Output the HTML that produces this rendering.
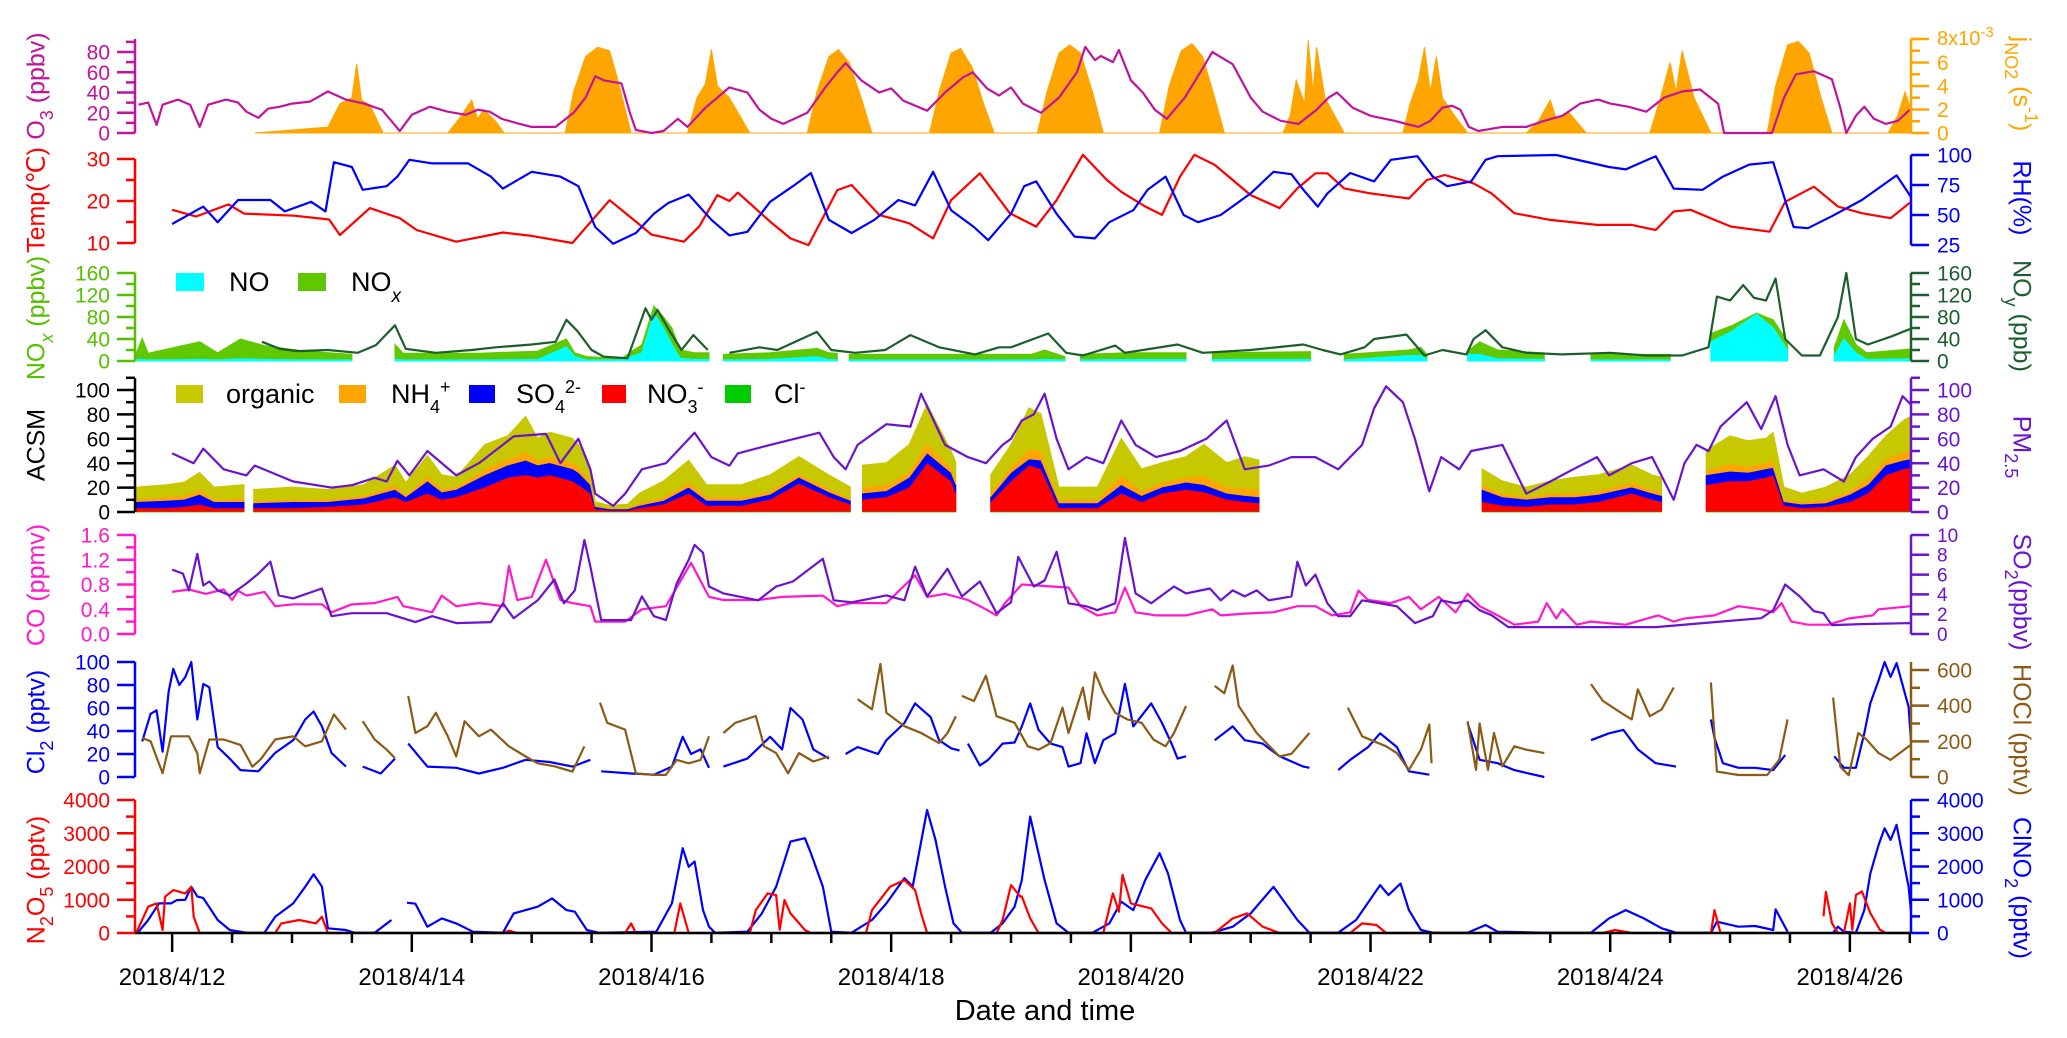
<!DOCTYPE html>
<html><head><meta charset="utf-8"><title>Time series</title>
<style>
html,body{margin:0;padding:0;background:#fff;}
svg{display:block;font-family:"Liberation Sans",Arial,sans-serif;}
</style></head>
<body>
<svg id="chart" xmlns="http://www.w3.org/2000/svg" width="2067" height="1038" viewBox="0 0 2067 1038">
<rect x="0" y="0" width="2067" height="1038" fill="#fff"/>
<g id="series"></g>
<g id="axes"></g>
<g font-size="25">
<text transform="translate(38,86) rotate(-90)" text-anchor="middle" dominant-baseline="middle" fill="#c0149c">O<tspan baseline-shift="sub" font-size="18">3</tspan> (ppbv)</text>
<text transform="translate(38,200) rotate(-90)" text-anchor="middle" dominant-baseline="middle" fill="#ff0000">Temp(℃)</text>
<text transform="translate(38,318) rotate(-90)" text-anchor="middle" dominant-baseline="middle" fill="#55c000">NO<tspan baseline-shift="sub" font-size="18" font-style="italic">x</tspan> (ppbv)</text>
<text transform="translate(38,445) rotate(-90)" text-anchor="middle" dominant-baseline="middle" fill="#000">ACSM</text>
<text transform="translate(38,585) rotate(-90)" text-anchor="middle" dominant-baseline="middle" fill="#ff19c8">CO (ppmv)</text>
<text transform="translate(38,722) rotate(-90)" text-anchor="middle" dominant-baseline="middle" fill="#0000ff">Cl<tspan baseline-shift="sub" font-size="18">2</tspan> (pptv)</text>
<text transform="translate(38,880) rotate(-90)" text-anchor="middle" dominant-baseline="middle" fill="#ff0000">N<tspan baseline-shift="sub" font-size="18">2</tspan>O<tspan baseline-shift="sub" font-size="18">5</tspan> (pptv)</text>
</g>
<g font-size="25">
<text transform="translate(2020,84) rotate(90)" text-anchor="middle" dominant-baseline="middle" fill="#ffa500">j<tspan baseline-shift="sub" font-size="18">NO2</tspan> (s<tspan baseline-shift="super" font-size="18">-1</tspan>)</text>
<text transform="translate(2020,198) rotate(90)" text-anchor="middle" dominant-baseline="middle" fill="#0000ff">RH(%)</text>
<text transform="translate(2020,316) rotate(90)" text-anchor="middle" dominant-baseline="middle" fill="#1c5e2c">NO<tspan baseline-shift="sub" font-size="18">y</tspan> (ppb)</text>
<text transform="translate(2020,447) rotate(90)" text-anchor="middle" dominant-baseline="middle" fill="#6a14d0">PM<tspan baseline-shift="sub" font-size="18">2.5</tspan></text>
<text transform="translate(2020,592) rotate(90)" text-anchor="middle" dominant-baseline="middle" fill="#6a14d0">SO<tspan baseline-shift="sub" font-size="18">2</tspan>(ppbv)</text>
<text transform="translate(2020,730) rotate(90)" text-anchor="middle" dominant-baseline="middle" fill="#8b5a14">HOCl (pptv)</text>
<text transform="translate(2020,888) rotate(90)" text-anchor="middle" dominant-baseline="middle" fill="#0000ff">ClNO<tspan baseline-shift="sub" font-size="18">2</tspan> (pptv)</text>
</g>
<g font-size="27">
<rect x="176" y="273" width="28" height="18" fill="#00ffff"/>
<text x="229" y="291">NO</text>
<rect x="298" y="273" width="28" height="18" fill="#5fc800"/>
<text x="351" y="291">NO<tspan baseline-shift="sub" font-size="19" font-style="italic">x</tspan></text>
</g>
<g font-size="27">
<rect x="176" y="385" width="27" height="18" fill="#c8c800"/>
<text x="226" y="403">organic</text>
<rect x="339" y="385" width="27" height="18" fill="#ffa500"/>
<text x="391" y="403">NH<tspan baseline-shift="sub" font-size="18">4</tspan><tspan baseline-shift="super" font-size="18">+</tspan></text>
<rect x="469" y="385" width="26" height="18" fill="#0000ff"/>
<text x="516" y="403">SO<tspan baseline-shift="sub" font-size="18">4</tspan><tspan baseline-shift="super" font-size="18">2-</tspan></text>
<rect x="602" y="385" width="24" height="18" fill="#ff0000"/>
<text x="647" y="403">NO<tspan baseline-shift="sub" font-size="18">3</tspan><tspan baseline-shift="super" font-size="18">-</tspan></text>
<rect x="725" y="385" width="26" height="18" fill="#00cc00"/>
<text x="774" y="403">Cl<tspan baseline-shift="super" font-size="18">-</tspan></text>
</g>
<text x="1045" y="1020" text-anchor="middle" font-size="29" fill="#000">Date and time</text>
</svg>
<script>
// ---------- data (day of April 2018, value) ----------
const jT=[12.69,13.3,13.4,13.5,13.54,13.58,13.65,13.76,14.3,14.4,14.5,14.55,14.6,14.7,14.77,15.28,15.35,15.45,15.55,15.65,15.72,15.83,16.3,16.38,16.45,16.5,16.55,16.65,16.82,17.3,17.38,17.48,17.56,17.65,17.75,17.84,18.32,18.4,18.5,18.58,18.68,18.77,18.86,19.22,19.3,19.4,19.49,19.58,19.68,19.77,20.24,20.32,20.42,20.51,20.6,20.7,20.78,21.27,21.33,21.38,21.45,21.48,21.52,21.55,21.62,21.7,21.78,22.27,22.33,22.4,22.45,22.5,22.55,22.6,22.7,22.81,23.3,23.4,23.5,23.55,23.65,23.8,24.33,24.42,24.5,24.55,24.6,24.7,24.84,25.31,25.38,25.48,25.57,25.66,25.76,25.85,26.32,26.4,26.46,26.51];
const jV=[0,0.5,2.5,3,5.9,2.8,2.4,0,0,1.3,2.8,1.2,2.0,1.0,0,0,3.5,6.5,7.3,7.0,4.5,0,0,3,4.2,7.1,4,3,0,0,3.5,6.5,7.1,6,3,0,0,3.5,6.8,7.2,5.5,2.5,0,0,3.5,6.8,7.5,6.8,3.5,0,0,4,7,7.6,6.5,3,0,0,1.5,4.5,2.5,7.9,3.5,7.3,3.0,1.5,0,0,2.5,4.5,7.3,3.5,6.5,3.0,1.5,0,0,1.0,2.8,1.2,1.8,0,0,3,6,3.5,7,3,0,0,4,7.5,7.8,6.8,3,0,0,1.5,3.5,2.0];
const o3T=[11.72,11.8,11.87,11.92,12.05,12.15,12.23,12.3,12.45,12.55,12.62,12.72,12.8,12.9,13.0,13.15,13.3,13.45,13.6,13.75,13.9,14.0,14.15,14.3,14.45,14.55,14.65,14.75,14.9,15.0,15.2,15.35,15.45,15.53,15.6,15.75,15.82,15.87,16.0,16.1,16.22,16.3,16.45,16.55,16.65,16.8,16.9,17.0,17.1,17.3,17.45,17.55,17.62,17.75,17.9,18.0,18.1,18.3,18.45,18.6,18.68,18.8,18.9,19.0,19.1,19.25,19.4,19.55,19.62,19.7,19.75,19.85,19.9,20.0,20.1,20.2,20.3,20.45,20.6,20.68,20.75,20.85,21.0,21.1,21.25,21.4,21.55,21.65,21.72,21.85,22.0,22.2,22.3,22.4,22.5,22.6,22.68,22.75,22.82,22.9,23.0,23.1,23.3,23.45,23.6,23.75,23.9,24.0,24.15,24.3,24.45,24.6,24.75,24.9,24.95,25.35,25.45,25.55,25.7,25.85,25.92,25.97,26.05,26.12,26.2,26.3,26.4,26.5];
const o3V=[28,30,8,28,33,28,6,28,33,30,21,15,24,26,29,31,41,33,29,23,2,18,26,21,18,23,21,14,9,6,6,20,35,56,52,49,20,3,0,2,14,6,25,35,45,40,23,14,9,20,45,60,69,52,40,44,32,22,40,55,60,44,37,45,29,20,35,60,85,72,76,70,82,52,40,23,14,35,64,80,75,68,35,21,12,9,23,35,40,25,17,12,9,6,12,25,27,23,6,2,4,6,6,12,17,29,33,29,26,21,35,41,43,29,0,0,35,58,61,53,25,0,17,26,14,9,12,23];
const tempT=[12.0,12.2,12.47,12.6,13.02,13.31,13.4,13.65,13.9,14.04,14.37,14.76,15.0,15.34,15.65,15.87,16.0,16.27,16.4,16.55,16.65,16.72,16.99,17.16,17.31,17.55,17.67,17.9,18.15,18.35,18.5,18.74,18.93,18.99,19.21,19.38,19.6,19.8,19.92,20.12,20.26,20.41,20.53,20.7,21.0,21.24,21.39,21.54,21.64,21.78,22.0,22.32,22.47,22.62,22.86,23.01,23.2,23.5,23.89,24.18,24.38,24.53,24.67,24.87,25.01,25.33,25.46,25.7,25.9,26.1,26.34,26.51];
const tempV=[17.9,16.3,19.2,17,16.5,15.6,11.9,18.3,15.9,13.1,10.3,12.5,11.7,10,20.2,15.1,12,10.3,14,21.4,20,22,15.1,11.1,9.5,22.6,23.8,16.7,14.7,11.1,20.2,26.6,19.4,17.1,13.9,20.2,31,25,22.2,18.7,16.7,25.8,31,28.6,21.4,18.3,23,26.6,26.6,23,21.8,20.6,25,26.2,24.2,21.8,17.1,15.5,14.3,14.3,13.1,17.5,17.9,15.5,13.9,12.7,19.8,23.4,18.7,17.1,15.9,19.8];
const rhT=[12.0,12.26,12.38,12.55,12.82,12.94,13.16,13.28,13.35,13.5,13.59,13.79,13.88,13.98,14.17,14.47,14.66,14.76,15.0,15.24,15.39,15.53,15.68,15.87,16.02,16.14,16.31,16.5,16.65,16.8,16.99,17.18,17.33,17.48,17.67,17.86,18.06,18.2,18.35,18.5,18.69,18.81,19.0,19.11,19.21,19.38,19.53,19.7,19.82,20.02,20.14,20.29,20.44,20.56,20.75,21.0,21.19,21.34,21.44,21.56,21.64,21.83,22.03,22.17,22.39,22.52,22.64,22.84,22.96,23.06,23.55,23.99,24.13,24.38,24.53,24.77,24.94,25.16,25.36,25.53,25.65,25.85,26.1,26.39,26.51];
const rhV=[42.5,57,44,62.5,62.5,53,61,53,94,90,71,74,82,96,93,93,82,72,86,82,74,40,26,35,51,60,67,46,33,36,61,74,85,46,35,46,62.5,58,86,54,40,29,51,74,78,51,32,30.5,44,54,71,82,50,44,50,68,86,84,71,57,68,85,78,96,99,82,74,78,96,99,100,90,88,99,72,71,82,92,94,40,39,49,62.5,83,65];
const noxT=[11.7,11.75,11.8,12.23,12.38,12.57,12.77,13.11,13.5,13.52,13.86,13.93,14.56,15.05,15.29,15.36,15.46,15.75,15.92,16.02,16.1,16.17,16.24,16.36,16.48,16.5,16.6,16.99,17.38,17.48,17.55,17.57,17.65,18.2,19.17,19.28,19.45,19.47,19.58,19.97,20.46,20.48,20.68,21.5,21.52,21.78,22.32,22.42,22.47,22.5,22.81,22.91,23.06,23.45,23.47,23.84,24.5,24.52,24.84,25.02,25.22,25.36,25.48,25.5,25.87,25.95,26.05,26.14,26.51];
const noxV=[14,41,14,35,15,40,28,18,12,null,30,14,14,18,40,15,8,5,30,100,80,60,20,15,15,null,12,15,23,15,14,null,12,12,12,20,8,null,12,15,15,null,15,17,null,12,20,25,12,null,18,35,20,15,null,12,12,null,50,65,87,75,35,null,25,75,30,15,22];
const noV=[3,3,2,3,2,4,3,2,2,null,3,2,2,3,26,8,2,2,15,87,60,30,5,3,3,null,2,3,8,3,2,null,2,2,2,3,2,null,2,3,3,null,3,3,null,2,10,10,3,null,12,12,4,3,null,2,2,null,35,55,85,60,20,null,10,40,15,3,4];
const noySeries=[[12.75,35],[12.9,22],[13.05,18],[13.3,20],[13.55,15],[13.7,29],[13.86,65],[13.95,22],[14.2,15],[14.5,20],[14.7,25],[15.0,30],[15.2,35],[15.29,75],[15.38,55],[15.5,20],[15.6,8],[15.8,5],[15.95,96],[16.0,75],[16.05,93],[16.15,55],[16.25,20],[16.35,47],[16.47,20],[16.5,null],[16.65,15],[16.9,25],[17.05,20],[17.38,53],[17.5,20],[17.7,15],[17.95,20],[18.16,47],[18.4,25],[18.7,12],[18.9,25],[19.0,25],[19.31,50],[19.46,15],[19.6,10],[19.87,28],[19.95,15],[20.1,20],[20.39,30],[20.6,15],[21.0,20],[21.44,30],[21.6,20],[21.75,12],[21.95,25],[22.03,40],[22.3,48],[22.45,10],[22.6,20],[22.8,12],[22.86,40],[22.96,56],[23.1,25],[23.3,15],[23.6,12],[24.0,15],[24.3,10],[24.6,10],[24.82,25],[24.89,117],[25.0,110],[25.11,138],[25.2,115],[25.3,110],[25.38,150],[25.46,40],[25.6,10],[25.75,10],[25.9,80],[25.97,160],[26.05,40],[26.15,30],[26.35,45],[26.51,59]];
const acsmT=[11.7,11.95,12.1,12.23,12.35,12.6,12.64,12.68,13.0,13.3,13.6,13.86,13.95,14.13,14.25,14.37,14.61,14.8,14.95,15.05,15.15,15.34,15.39,15.49,15.53,15.65,15.8,15.9,16.1,16.31,16.46,16.75,16.99,17.23,17.48,17.66,17.7,17.76,17.96,18.15,18.3,18.5,18.54,18.6,18.83,19.0,19.15,19.25,19.4,19.72,19.92,20.09,20.26,20.46,20.61,20.8,20.95,21.07,21.1,22.93,23.1,23.3,23.5,23.7,23.9,24.18,24.35,24.43,24.5,24.8,25.0,25.15,25.3,25.36,25.45,25.6,25.8,26.0,26.15,26.3,26.45,26.51];
const clV=[.5,.5,.5,.5,.5,.5,null,.5,.5,.5,.5,.5,.5,.5,.5,.5,.5,.5,.5,.5,.5,.5,.5,.5,.5,.5,.5,.5,.5,.5,.5,.5,.5,.5,.5,.5,null,.5,.5,.5,.5,.5,.5,null,.5,.5,.5,.5,.5,.5,.5,.5,.5,.5,.5,.5,.5,.5,null,.5,.5,.5,.5,.5,.5,.5,.5,.5,null,.5,.5,.5,.5,.5,.5,.5,.5,.5,.5,.5,.5,.5];
const no3V=[3,3,4,6,3,3,null,3,3,4,6,12,8,15,10,12,20,28,30,28,30,25,22,15,2,1,1,3,6,15,5,5,10,23,12,6,null,10,12,20,40,25,15,null,8,25,38,35,3,3,15,8,15,18,16,10,8,7,null,8,5,4,6,6,8,15,10,8,null,22,25,25,28,30,5,3,4,8,15,30,35,36];
const so4V=[5,6,6,8,5,5,null,4,5,4,5,6,4,10,6,6,10,10,12,10,10,10,10,7,2,1,1,2,3,5,4,4,4,5,4,3,null,5,5,8,8,7,7,null,4,7,5,7,4,4,7,5,5,6,6,5,5,5,null,10,7,6,6,6,6,5,5,5,null,8,8,7,7,6,3,3,3,6,7,8,7,7];
const nh4V=[2,3,3,4,2,3,null,2,2,2,2,4,2,4,3,2,5,5,7,4,5,5,5,3,1,1,1,2,3,4,3,3,3,3,3,2,null,5,5,5,8,4,4,null,4,5,8,8,3,3,8,4,4,4,7,5,6,6,null,4,3,2,3,3,3,4,3,3,null,4,6,5,5,6,2,2,3,3,5,5,7,7];
const orgV=[10,10,11,14,10,11,null,9,10,8,9,16,10,17,11,8,20,19,29,18,20,20,18,10,3,2,3,8,13,18,10,10,13,14,11,9,null,18,18,22,32,14,14,null,14,18,34,30,10,10,30,18,16,17,26,20,26,24,null,13,10,8,10,13,13,14,12,12,null,16,23,21,20,23,10,7,10,13,18,19,26,28];
const pmSeries=[[12.0,48],[12.18,40],[12.26,52],[12.43,35],[12.62,30],[12.69,38],[13.01,25],[13.33,20],[13.5,22],[13.69,28],[13.79,25],[13.88,42],[13.98,30],[14.13,50],[14.37,30],[14.56,40],[14.85,62],[15.12,64],[15.24,40],[15.39,60],[15.49,35],[15.53,15],[15.68,5],[15.78,15],[15.92,35],[16.12,40],[16.36,65],[16.5,45],[16.65,38],[16.72,48],[16.99,55],[17.4,65],[17.52,45],[17.62,35],[17.72,55],[17.96,72],[18.16,70],[18.25,97],[18.45,55],[18.64,45],[18.79,40],[18.93,55],[19.0,60],[19.09,75],[19.19,80],[19.28,97],[19.38,60],[19.48,35],[19.63,45],[19.77,40],[19.92,75],[20.04,55],[20.21,45],[20.41,50],[20.63,60],[20.8,75],[20.95,35],[21.15,38],[21.34,45],[21.54,45],[21.73,35],[21.93,55],[22.03,85],[22.13,103],[22.27,90],[22.37,60],[22.49,17],[22.59,45],[22.74,35],[22.84,50],[23.1,55],[23.2,35],[23.3,15],[23.5,25],[23.69,35],[23.89,45],[23.99,30],[24.18,40],[24.35,45],[24.53,10],[24.62,40],[24.72,55],[24.82,50],[24.92,70],[25.14,90],[25.26,68],[25.38,95],[25.48,55],[25.58,30],[25.78,35],[25.95,25],[26.05,45],[26.19,60],[26.34,70],[26.44,95],[26.51,88]];
const coSeries=[[12.0,0.68],[12.14,0.72],[12.28,0.65],[12.43,0.72],[12.5,0.55],[12.55,0.7],[12.62,0.62],[12.77,0.68],[12.86,0.45],[13.01,0.48],[13.25,0.48],[13.33,0.35],[13.5,0.48],[13.69,0.5],[13.88,0.6],[13.93,0.45],[14.17,0.35],[14.25,0.62],[14.37,0.45],[14.56,0.5],[14.76,0.45],[14.81,1.1],[14.88,0.55],[15.0,0.6],[15.12,1.2],[15.24,0.55],[15.34,0.5],[15.49,0.45],[15.53,0.2],[15.78,0.2],[15.92,0.4],[16.12,0.45],[16.21,0.75],[16.33,1.15],[16.48,0.6],[16.6,0.55],[16.89,0.55],[17.09,0.6],[17.43,0.62],[17.55,0.45],[17.67,0.5],[17.96,0.5],[18.2,0.95],[18.3,0.6],[18.45,0.65],[18.64,0.55],[18.79,0.4],[18.88,0.3],[18.95,0.5],[19.09,0.8],[19.48,0.75],[19.58,0.45],[19.72,0.3],[19.87,0.35],[19.95,0.75],[20.04,0.35],[20.21,0.3],[20.46,0.3],[20.68,0.4],[20.75,0.3],[20.95,0.33],[21.19,0.35],[21.39,0.45],[21.54,0.45],[21.68,0.3],[21.83,0.35],[21.9,0.7],[21.98,0.55],[22.17,0.5],[22.32,0.6],[22.42,0.4],[22.57,0.6],[22.71,0.35],[22.81,0.65],[22.91,0.45],[23.06,0.3],[23.2,0.15],[23.4,0.2],[23.47,0.5],[23.55,0.25],[23.6,0.4],[23.72,0.15],[23.84,0.2],[24.13,0.15],[24.4,0.3],[24.53,0.2],[24.62,0.25],[24.87,0.3],[25.07,0.45],[25.26,0.4],[25.36,0.35],[25.43,0.5],[25.51,0.2],[25.65,0.15],[25.82,0.15],[25.99,0.25],[26.19,0.3],[26.24,0.4],[26.51,0.45]];
const so2Series=[[12.0,6.5],[12.09,6.1],[12.14,4.4],[12.21,8.1],[12.26,4.9],[12.31,5.3],[12.38,4.4],[12.48,3.9],[12.62,5.1],[12.72,6.1],[12.82,7.3],[12.89,3.9],[13.01,3.6],[13.25,4.6],[13.33,1.8],[13.5,2.1],[13.79,2.1],[14.03,1.2],[14.17,1.8],[14.37,1.1],[14.66,1.2],[14.76,3.1],[14.85,1.6],[15.05,3.4],[15.19,5.5],[15.27,3.1],[15.36,4.4],[15.44,9.5],[15.49,6.8],[15.58,1.4],[15.83,1.4],[15.92,3.8],[16.02,1.8],[16.12,1.4],[16.21,5.1],[16.31,7.5],[16.36,9.0],[16.43,8.2],[16.48,4.8],[16.6,4.1],[16.89,3.4],[17.04,4.8],[17.18,5.3],[17.43,7.6],[17.52,3.4],[17.67,3.2],[17.96,3.9],[18.11,3.4],[18.2,6.8],[18.3,3.8],[18.47,6.6],[18.59,3.8],[18.74,5.3],[18.88,2.1],[19.0,3.2],[19.06,7.8],[19.19,4.8],[19.28,5.4],[19.38,8.3],[19.48,3.1],[19.63,2.8],[19.72,2.4],[19.87,3.1],[19.95,9.7],[20.04,4.1],[20.17,3.1],[20.36,4.8],[20.46,4.1],[20.66,4.6],[20.75,3.4],[20.85,4.4],[20.95,3.8],[21.05,4.4],[21.15,3.4],[21.34,3.8],[21.39,7.3],[21.46,4.9],[21.54,6.0],[21.64,3.1],[21.73,1.8],[21.83,1.8],[21.93,3.4],[22.03,3.2],[22.22,2.8],[22.37,1.1],[22.52,1.8],[22.59,3.4],[22.71,3.1],[22.81,3.4],[22.91,2.4],[23.01,1.9],[23.15,0.7],[23.69,0.7],[24.38,0.7],[24.87,1.2],[25.26,1.6],[25.36,2.4],[25.46,5.0],[25.58,3.8],[25.7,2.3],[25.78,2.1],[25.85,0.9],[26.09,1.0],[26.51,1.1]];
const cl2Series=[[11.75,31],[11.82,55],[11.87,58],[11.92,22],[11.97,74],[12.01,94],[12.06,80],[12.11,87],[12.16,100],[12.21,50],[12.26,81],[12.31,78],[12.38,26],[12.48,16],[12.57,6],[12.72,5],[12.86,21],[13.01,32],[13.11,50],[13.18,57],[13.25,44],[13.33,21],[13.45,9],[13.5,null],[13.59,9],[13.74,3],[13.86,16],[13.9,null],[13.97,29],[14.13,9],[14.37,8],[14.56,3],[14.76,8],[14.95,15],[15.15,13],[15.34,9],[15.49,15],[15.53,null],[15.58,5],[15.83,3],[16.02,2],[16.17,9],[16.26,35],[16.33,20],[16.41,24],[16.48,8],[16.53,null],[16.6,9],[16.8,16],[16.99,35],[17.09,24],[17.16,60],[17.26,50],[17.35,24],[17.48,16],[17.55,null],[17.62,20],[17.72,26],[17.89,20],[17.96,32],[18.11,47],[18.2,64],[18.33,52],[18.4,32],[18.5,25],[18.57,23],[18.6,null],[18.64,29],[18.74,10],[18.81,15],[18.93,29],[19.03,30],[19.09,44],[19.16,64],[19.23,41],[19.33,29],[19.43,26],[19.48,9],[19.58,12],[19.63,38],[19.7,12],[19.77,32],[19.87,38],[19.95,81],[20.02,44],[20.17,64],[20.26,47],[20.34,29],[20.39,16],[20.46,18],[20.55,null],[20.7,32],[20.85,44],[20.95,32],[21.1,29],[21.24,18],[21.44,9],[21.49,8],[21.6,null],[21.73,6],[21.83,15],[21.98,26],[22.08,38],[22.22,26],[22.32,5],[22.49,2],[22.6,null],[22.81,47],[22.91,15],[23.06,12],[23.2,6],[23.45,0],[23.6,null],[23.84,32],[23.99,38],[24.11,41],[24.23,24],[24.38,12],[24.55,9],[24.7,null],[24.84,50],[24.87,34],[24.94,12],[25.07,8],[25.21,8],[25.36,6],[25.46,19],[25.6,null],[25.87,18],[25.95,8],[26.05,8],[26.12,38],[26.17,64],[26.24,84],[26.29,100],[26.34,87],[26.39,99],[26.49,61],[26.51,31]];
const hoclSeries=[[11.75,219],[11.82,200],[11.92,21],[11.99,228],[12.14,228],[12.21,134],[12.23,21],[12.31,210],[12.43,210],[12.57,180],[12.67,58],[12.74,100],[12.86,210],[13.01,228],[13.11,172],[13.25,200],[13.35,351],[13.45,266],[13.5,null],[13.59,313],[13.69,210],[13.79,153],[13.86,106],[13.9,null],[13.97,455],[14.03,247],[14.13,285],[14.2,360],[14.3,228],[14.37,115],[14.44,313],[14.56,228],[14.66,266],[14.81,172],[14.95,115],[15.05,77],[15.19,60],[15.34,30],[15.44,172],[15.5,null],[15.57,417],[15.63,304],[15.78,266],[15.87,21],[16.02,12],[16.12,12],[16.21,96],[16.31,77],[16.41,96],[16.48,228],[16.53,null],[16.6,247],[16.7,304],[16.87,342],[16.94,172],[17.04,134],[17.14,21],[17.23,134],[17.35,87],[17.48,115],[17.55,null],[17.72,436],[17.84,379],[17.91,634],[17.96,360],[18.11,285],[18.25,247],[18.4,190],[18.47,247],[18.54,341],[18.56,null],[18.59,455],[18.69,426],[18.79,568],[18.88,341],[19.03,304],[19.14,172],[19.23,153],[19.33,190],[19.43,389],[19.48,247],[19.6,502],[19.65,323],[19.7,587],[19.77,474],[19.87,360],[19.97,323],[20.09,304],[20.19,209],[20.29,172],[20.36,247],[20.46,398],[20.55,null],[20.7,511],[20.78,470],[20.85,625],[20.9,398],[21.05,247],[21.24,115],[21.34,130],[21.49,247],[21.6,null],[21.81,389],[21.93,228],[22.13,172],[22.22,134],[22.32,40],[22.42,153],[22.49,294],[22.51,77],[22.6,null],[22.81,313],[22.88,40],[22.91,300],[22.98,40],[23.03,247],[23.1,60],[23.2,172],[23.3,153],[23.45,134],[23.6,null],[23.84,521],[23.94,426],[24.09,360],[24.18,323],[24.23,492],[24.33,341],[24.43,379],[24.53,502],[24.7,null],[24.84,530],[24.89,30],[25.07,11],[25.31,11],[25.41,96],[25.48,323],[25.6,null],[25.86,445],[25.92,58],[25.99,10],[26.07,247],[26.14,209],[26.24,134],[26.34,96],[26.51,181]];
const clno2Series=[[11.72,40],[11.8,390],[11.89,890],[11.99,890],[12.04,990],[12.11,1000],[12.16,1390],[12.21,1100],[12.26,1050],[12.38,390],[12.48,90],[12.62,10],[12.77,10],[12.86,490],[13.01,890],[13.11,1390],[13.18,1765],[13.25,1400],[13.3,140],[13.45,90],[13.52,10],[13.69,10],[13.83,390],[13.9,null],[13.96,910],[14.03,880],[14.13,190],[14.25,440],[14.37,290],[14.51,40],[14.76,10],[14.85,590],[15.05,790],[15.17,1040],[15.29,690],[15.36,640],[15.46,90],[15.56,10],[16.04,40],[16.17,890],[16.26,2550],[16.31,1990],[16.36,2150],[16.43,690],[16.48,190],[16.53,10],[16.8,40],[16.92,590],[17.04,1390],[17.09,1950],[17.16,2750],[17.28,2850],[17.33,2400],[17.43,1390],[17.5,40],[17.67,10],[17.84,390],[17.96,890],[18.11,1650],[18.18,1400],[18.3,3700],[18.37,2800],[18.45,1390],[18.52,290],[18.59,10],[18.83,10],[18.93,290],[19.03,790],[19.09,1590],[19.16,3500],[19.21,2700],[19.28,1590],[19.38,290],[19.48,10],[19.68,10],[19.82,290],[19.92,940],[20.02,690],[20.12,1590],[20.24,2400],[20.31,1790],[20.41,390],[20.46,10],[20.68,10],[20.85,190],[21.0,590],[21.19,1390],[21.39,390],[21.49,10],[21.73,10],[21.88,390],[22.08,1440],[22.15,1140],[22.25,1490],[22.32,690],[22.42,90],[22.52,10],[22.81,10],[22.96,240],[23.06,40],[23.45,10],[23.84,10],[23.99,440],[24.13,690],[24.28,440],[24.43,140],[24.55,10],[24.84,10],[24.89,340],[25.07,190],[25.21,210],[25.36,90],[25.38,710],[25.48,40],[25.6,null],[25.86,10],[25.9,190],[25.95,40],[26.05,10],[26.12,690],[26.17,1790],[26.24,2650],[26.29,3150],[26.34,2800],[26.39,3250],[26.49,1390],[26.51,640]];
const n2o5Series=[[11.7,0],[11.8,790],[11.87,890],[11.92,90],[11.94,1090],[12.01,1290],[12.11,1190],[12.16,1390],[12.18,490],[12.23,0],[12.86,0],[12.91,290],[13.06,390],[13.2,290],[13.25,490],[13.3,0],[14.76,0],[14.81,70],[14.88,0],[15.78,0],[15.83,290],[15.87,0],[16.19,0],[16.24,890],[16.31,0],[16.82,0],[16.87,690],[16.97,1190],[17.04,1140],[17.07,100],[17.11,990],[17.16,590],[17.28,90],[17.33,0],[17.79,0],[17.84,690],[17.99,1390],[18.11,1590],[18.2,1290],[18.25,590],[18.3,0],[18.88,0],[18.93,390],[19.0,1440],[19.08,1090],[19.09,1100],[19.16,440],[19.23,0],[19.77,0],[19.85,1190],[19.9,640],[19.93,1750],[20.0,890],[20.17,740],[20.26,290],[20.34,0],[20.7,0],[20.85,440],[20.97,590],[21.1,190],[21.24,0],[21.83,0],[21.93,290],[22.05,240],[22.13,0],[23.94,0],[24.04,90],[24.18,0],[24.84,0],[24.87,690],[24.92,0],[25.5,0],[25.6,null],[25.78,500],[25.8,1240],[25.85,300],[25.9,0],[25.95,0],[26.0,890],[26.02,100],[26.05,1140],[26.1,1250],[26.17,600],[26.25,100],[26.3,0],[26.51,0]];
// tick definitions
const dateTicks=[12,14,16,18,20,22,24,26];
const dateLabels=['2018/4/12','2018/4/14','2018/4/16','2018/4/18','2018/4/20','2018/4/22','2018/4/24','2018/4/26'];

// ---------- scales ----------
const X0=135,X1=1911,T0=11.69,T1=26.51;
function xs(t){return X0+(t-T0)/(T1-T0)*(X1-X0);}
function lin(v0,p0,v1,p1){return v=>p0+(v-v0)/(v1-v0)*(p1-p0);}
const yO3=lin(0,133,80,52), yJ=lin(0,133,8,39);
const yT=lin(10,243,30,159), yRH=lin(25,245,100,155);
const yNOx=lin(0,361,160,273);
const yA=lin(0,512,100,390);
const yCO=lin(0,634,1.6,535), ySO2=lin(0,634,10,535);
const yCl2=lin(0,777,100,662), yHOCl=lin(0,777,600,670);
const yN=lin(0,933,4000,800);

const NS='http://www.w3.org/2000/svg';
const gS=document.getElementById('series');
const gA=document.getElementById('axes');
function mk(tag,parent){const e=document.createElementNS(NS,tag);parent.appendChild(e);return e;}
function zip(T,V){return T.map((t,i)=>[t,V[i]]);}
function linePath(pairs,ys){let d='',pen=false;for(const [t,v] of pairs){if(v===null||v===undefined){pen=false;continue;}d+=(pen?'L':'M')+xs(t).toFixed(1)+' '+ys(v).toFixed(1);pen=true;}return d;}
function drawLine(pairs,ys,color,name,w){
  const p=mk('path',gS);
  
  
  p.setAttribute('d',linePath(pairs,ys));p.setAttribute('fill','none');p.setAttribute('stroke',color);
  p.setAttribute('stroke-width',w||2.2);p.setAttribute('stroke-linejoin','round');
}
function segs(pairs){const out=[];let cur=[];for(const pr of pairs){if(pr[1]===null||pr[1]===undefined){if(cur.length)out.push(cur);cur=[];}else cur.push(pr);}if(cur.length)out.push(cur);return out;}
function drawArea(pairs,ys,base,color,name){
  const p=mk('path',gS);
  
  
  let d='';
  for(const s of segs(pairs)){
    d+='M'+xs(s[0][0]).toFixed(1)+' '+ys(base).toFixed(1);
    for(const [t,v] of s)d+='L'+xs(t).toFixed(1)+' '+ys(v).toFixed(1);
    d+='L'+xs(s[s.length-1][0]).toFixed(1)+' '+ys(base).toFixed(1)+'Z';
  }
  p.setAttribute('d',d);p.setAttribute('fill',color);p.setAttribute('stroke',color);p.setAttribute('stroke-width','1');
}
function drawBand(T,lo,hi,ys,color,name){
  const p=mk('path',gS);
  
  
  let d='',run=[];
  const flush=()=>{if(run.length){d+='M'+run.map(i=>xs(T[i]).toFixed(1)+' '+ys(hi[i]).toFixed(1)).join('L');d+='L'+run.slice().reverse().map(i=>xs(T[i]).toFixed(1)+' '+ys(lo[i]).toFixed(1)).join('L')+'Z';}run=[];};
  for(let i=0;i<T.length;i++){if(hi[i]===null)flush();else run.push(i);}flush();
  p.setAttribute('d',d);p.setAttribute('fill',color);p.setAttribute('stroke',color);p.setAttribute('stroke-width','0.8');
}

drawArea(zip(jT,jV),yJ,0,'#ffa500','jno2-area');
drawLine(zip(o3T,o3V),yO3,'#c0149c','o3-line');
drawLine(zip(tempT,tempV),yT,'#ff0000','temperature-line');
drawLine(zip(rhT,rhV),yRH,'#0000ff','rh-line');
drawArea(zip(noxT,noxV),yNOx,0,'#5fc800','nox-area');
drawArea(zip(noxT,noV),yNOx,0,'#00ffff','no-area');
drawLine(noySeries,yNOx,'#1c5e2c','noy-line');
(function(){
  const layers=[[clV,'#00cc00','cl-area'],[no3V,'#ff0000','no3-area'],[so4V,'#0000ff','so4-area'],[nh4V,'#ffa500','nh4-area'],[orgV,'#c8c800','organic-area']];
  let lo=acsmT.map((t,i)=>orgV[i]===null?null:0);
  for(const [arr,col,nm] of layers){
    const hi=lo.map((b,i)=>b===null?null:b+arr[i]);
    drawBand(acsmT,lo,hi,yA,col,nm);
    lo=hi;
  }
})();
drawLine(pmSeries,yA,'#6a14d0','pm25-line');
drawLine(coSeries,yCO,'#ff19c8','co-line');
drawLine(so2Series,ySO2,'#6a14d0','so2-line');
drawLine(cl2Series,yCl2,'#0000ff','cl2-line');
drawLine(hoclSeries,yHOCl,'#8b5a14','hocl-line');
drawLine(clno2Series,yN,'#0000ff','clno2-line');
drawLine(n2o5Series,yN,'#ff0000','n2o5-line');

// ---------- axes ----------
function axis(side,yTop,yBot,ys,majors,minors,labels,color,name,fs){
  const x=side==='L'?X0:X1, s=side==='L'?-1:1;
  const g=mk('g',gA);
  
  
  const ln=mk('line',g);
  
  
  ln.setAttribute('x1',x);ln.setAttribute('x2',x);ln.setAttribute('y1',yTop);ln.setAttribute('y2',yBot);
  ln.setAttribute('stroke',color);ln.setAttribute('stroke-width','2.5');
  const tick=(v,len)=>{const t=mk('line',g);
    
    
    const y=ys(v);t.setAttribute('x1',x);t.setAttribute('x2',x+s*len);t.setAttribute('y1',y);t.setAttribute('y2',y);t.setAttribute('stroke',color);t.setAttribute('stroke-width','2.5');};
  minors.forEach(v=>tick(v,9));
  majors.forEach((v,i)=>{tick(v,18);
    const tx=mk('text',g);
    
    
    tx.setAttribute('x',side==='L'?x-25:x+26);tx.setAttribute('y',ys(v));tx.setAttribute('dy','0.36em');
    tx.setAttribute('text-anchor',side==='L'?'end':'start');tx.setAttribute('font-size',fs||21);tx.setAttribute('fill',color);
    tx.textContent=labels[i];
  });
  return g;
}
axis('L',39,133,yO3,[0,20,40,60,80],[10,30,50,70,90],['0','20','40','60','80'],'#c0149c','o3-axis');
const jAx=axis('R',39,133,yJ,[0,2,4,6],[1,3,5,7,8],['0','2','4','6'],'#ffa500','jno2-axis');
(function(){const t=mk('line',jAx);
  
  
  t.setAttribute('x1',X1);t.setAttribute('x2',X1+18);t.setAttribute('y1',yJ(8));t.setAttribute('y2',yJ(8));t.setAttribute('stroke','#ffa500');t.setAttribute('stroke-width','2.5');
  const tx=mk('text',jAx);
  
  
  tx.setAttribute('x',X1+26);tx.setAttribute('y',yJ(8)+6);tx.setAttribute('font-size','20');tx.setAttribute('fill','#ffa500');
  tx.innerHTML='8x10<tspan baseline-shift="super" font-size="15">-3</tspan>';})();
axis('L',159,243,yT,[10,20,30],[15,25],['10','20','30'],'#ff0000','temperature-axis');
axis('R',155,245,yRH,[25,50,75,100],[],['25','50','75','100'],'#0000ff','rh-axis');
axis('L',273,361,yNOx,[0,40,80,120,160],[20,60,100,140],['0','40','80','120','160'],'#55c000','nox-axis');
axis('R',273,361,yNOx,[0,40,80,120,160],[20,60,100,140],['0','40','80','120','160'],'#1c5e2c','noy-axis');
axis('L',378,512,yA,[0,20,40,60,80,100],[10,30,50,70,90,110],['0','20','40','60','80','100'],'#000000','acsm-axis');
axis('R',378,512,yA,[0,20,40,60,80,100],[10,30,50,70,90,110],['0','20','40','60','80','100'],'#6a14d0','pm25-axis');
axis('L',535,634,yCO,[0,0.4,0.8,1.2,1.6],[0.2,0.6,1.0,1.4],['0.0','0.4','0.8','1.2','1.6'],'#ff19c8','co-axis');
axis('R',535,634,ySO2,[0,2,4,6,8,10],[],['0','2','4','6','8','10'],'#6a14d0','so2-axis',19);
axis('L',662,777,yCl2,[0,20,40,60,80,100],[],['0','20','40','60','80','100'],'#0000ff','cl2-axis');
axis('R',662,777,yHOCl,[0,200,400,600],[100,300,500],['0','200','400','600'],'#8b5a14','hocl-axis');
axis('L',800,933,yN,[0,1000,2000,3000,4000],[500,1500,2500,3500],['0','1000','2000','3000','4000'],'#ff0000','n2o5-axis');
axis('R',800,933,yN,[0,1000,2000,3000,4000],[500,1500,2500,3500],['0','1000','2000','3000','4000'],'#0000ff','clno2-axis');

(function(){
  const g=mk('g',gA);
  
  
  const l=mk('line',g);
  
  
  l.setAttribute('x1',X0);l.setAttribute('x2',X1);l.setAttribute('y1',933);l.setAttribute('y2',933);l.setAttribute('stroke','#000');l.setAttribute('stroke-width','2.5');
  for(let t=12;t<=26.5;t+=0.5){
    const major=dateTicks.indexOf(t)>=0;
    const tk=mk('line',g);
    
    
    tk.setAttribute('x1',xs(t));tk.setAttribute('x2',xs(t));tk.setAttribute('y1',933);tk.setAttribute('y2',major?952:943);tk.setAttribute('stroke','#000');tk.setAttribute('stroke-width','2.5');
  }
  dateTicks.forEach((t,i)=>{
    const tx=mk('text',g);
    
    
    tx.setAttribute('x',xs(t));tx.setAttribute('y',985);tx.setAttribute('text-anchor','middle');tx.setAttribute('font-size','24');tx.setAttribute('fill','#000');
    tx.textContent=dateLabels[i];
  });
})();
</script>
</body></html>
